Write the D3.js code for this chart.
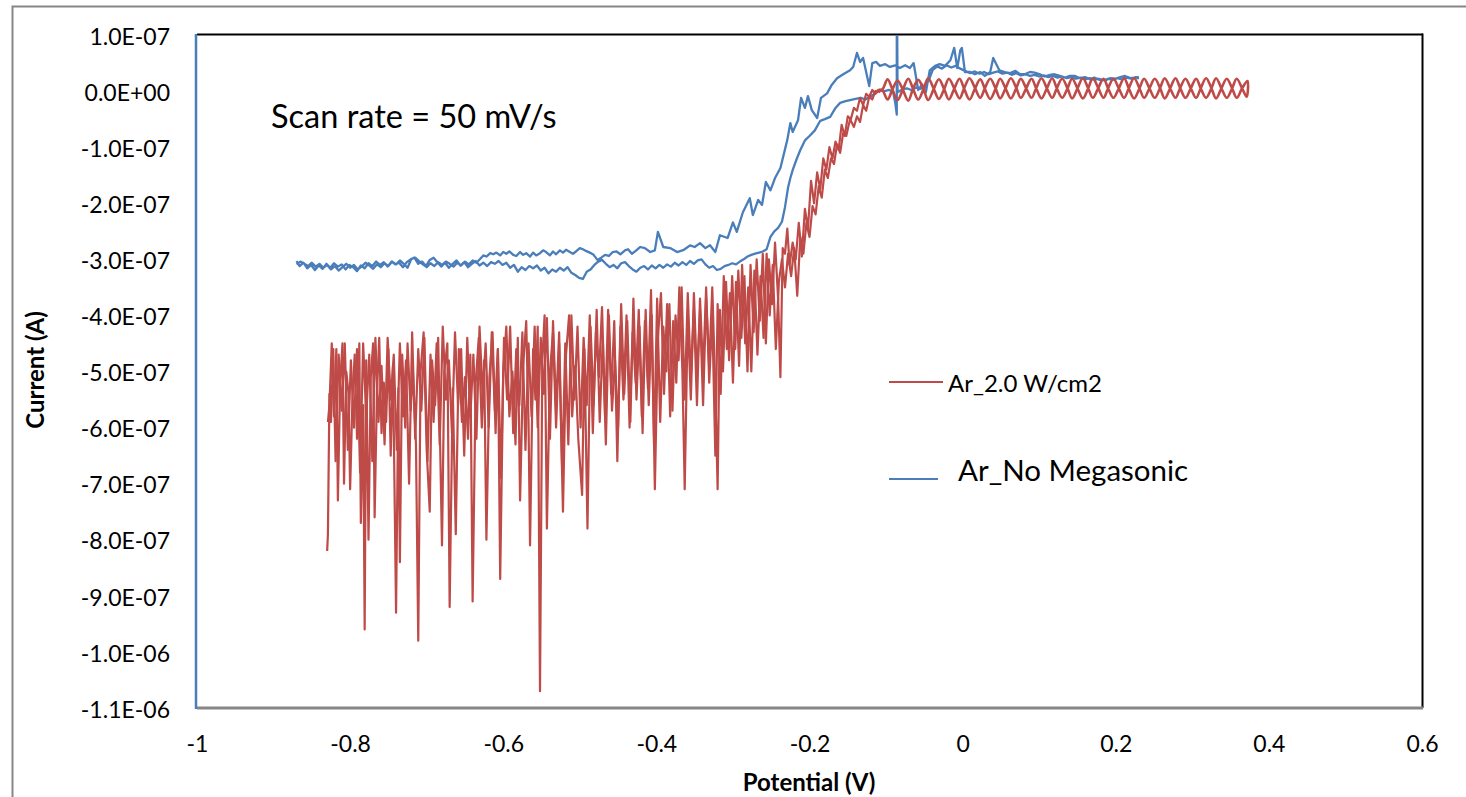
<!DOCTYPE html>
<html>
<head>
<meta charset="utf-8">
<script src="https://cdn.jsdelivr.net/npm/d3@7"></script>
<style>
  body { margin: 0; background: #fff; }
  text { font-family: Lato, "Open Sans", sans-serif; }
</style>
</head>
<body>
<svg id="chart" width="1466" height="797"></svg>
<script>
// axis ticks (current in units of 1e-7 A)
const xTicks = [-1, -0.8, -0.6, -0.4, -0.2, 0, 0.2, 0.4, 0.6]
const yTicks = [1, 0, -1, -2, -3, -4, -5, -6, -7, -8, -9, -10, -11]
const currentUnit = 1e-7
const seriesNames = ["Ar_2.0 W/cm2", "Ar_No Megasonic"]
const note = "Scan rate = 50 mV/s"

// Ar_2.0 W/cm2 : forward sweep, noisy part + rise  [V, 1e-7 A]
const redFwd = [[-0.829,-5.9],[-0.827,-5.6],[-0.824,-4.5],[-0.821,-5.8],[-0.818,-4.6],[-0.816,-7.3],[-0.813,-5.2],[-0.810,-4.5],[-0.808,-7.0],[-0.805,-5.0],[-0.802,-5.4],[-0.800,-7.1],[-0.797,-5.5],[-0.794,-4.7],[-0.791,-6.2],[-0.788,-4.5],[-0.786,-7.7],[-0.783,-5.6],[-0.781,-9.6],[-0.779,-4.8],[-0.776,-8.0],[-0.773,-5.1],[-0.770,-4.5],[-0.768,-7.6],[-0.765,-5.4],[-0.762,-4.4],[-0.759,-6.1],[-0.756,-5.2],[-0.753,-5.9],[-0.750,-4.6],[-0.747,-6.5],[-0.744,-4.9],[-0.740,-9.3],[-0.737,-5.3],[-0.735,-8.4],[-0.732,-4.7],[-0.728,-6.0],[-0.725,-4.5],[-0.721,-5.7],[-0.718,-5.0],[-0.714,-6.3],[-0.711,-9.8],[-0.708,-5.0],[-0.704,-4.3],[-0.700,-6.4],[-0.696,-7.5],[-0.693,-4.8],[-0.689,-5.6],[-0.685,-4.4],[-0.680,-8.1],[-0.677,-5.0],[-0.673,-4.5],[-0.670,-9.2],[-0.666,-5.3],[-0.662,-7.9],[-0.658,-4.6],[-0.654,-5.9],[-0.650,-5.1],[-0.646,-6.2],[-0.643,-4.7],[-0.640,-9.1],[-0.636,-5.2],[-0.632,-4.4],[-0.628,-6.0],[-0.625,-4.8],[-0.622,-8.0],[-0.618,-5.1],[-0.614,-4.3],[-0.610,-6.1],[-0.607,-4.6],[-0.604,-8.7],[-0.600,-5.0],[-0.596,-4.2],[-0.592,-5.8],[-0.588,-5.0],[-0.584,-6.3],[-0.581,-4.4],[-0.578,-7.3],[-0.574,-4.9],[-0.570,-4.1],[-0.567,-5.9],[-0.565,-8.1],[-0.561,-4.6],[-0.558,-5.5],[-0.555,-4.2],[-0.552,-10.7],[-0.549,-4.8],[-0.546,-4.0],[-0.543,-7.8],[-0.539,-5.0],[-0.535,-4.3],[-0.531,-6.0],[-0.527,-4.5],[-0.522,-7.5],[-0.518,-4.7],[-0.514,-4.0],[-0.510,-5.8],[-0.506,-4.9],[-0.502,-6.2],[-0.497,-7.2],[-0.494,-4.6],[-0.490,-7.8],[-0.486,-4.2],[-0.482,-5.6],[-0.478,-3.9],[-0.474,-5.9],[-0.470,-4.4],[-0.466,-6.3],[-0.462,-4.0],[-0.458,-5.7],[-0.454,-4.8],[-0.450,-6.0],[-0.446,-3.8],[-0.442,-5.4],[-0.438,-4.1],[-0.434,-5.9],[-0.430,-3.7],[-0.426,-5.5],[-0.422,-4.2],[-0.418,-6.1],[-0.414,-3.9],[-0.410,-5.6],[-0.406,-4.0],[-0.402,-7.1],[-0.398,-4.4],[-0.394,-3.6],[-0.390,-5.4],[-0.386,-3.8],[-0.382,-5.8],[-0.378,-4.1],[-0.374,-5.2],[-0.370,-3.5],[-0.366,-5.0],[-0.363,-7.1],[-0.359,-4.0],[-0.355,-5.5],[-0.351,-3.6],[-0.347,-5.1],[-0.343,-3.9],[-0.339,-5.6],[-0.335,-3.7],[-0.331,-4.9],[-0.327,-3.5],[-0.323,-5.3],[-0.320,-7.1],[-0.317,-3.9],[-0.313,-5.0],[-0.309,-3.4],[-0.305,-4.8],[-0.301,-3.3],[-0.297,-4.6],[-0.293,-3.2],[-0.289,-4.4],[-0.285,-3.3],[-0.281,-5.0],[-0.277,-3.1],[-0.273,-4.3],[-0.269,-3.0],[-0.265,-4.1],[-0.261,-2.9],[-0.257,-4.5],[-0.253,-3.0],[-0.249,-3.8],[-0.245,-2.7],[-0.241,-3.7],[-0.238,-5.1],[-0.235,-2.8],
  [-0.232,-2.9],[-0.229,-2.45],[-0.226,-3.1],[-0.222,-2.7],[-0.218,-3.0],[-0.214,-2.35],[-0.210,-2.95],[-0.206,-2.1],[-0.202,-2.45],[-0.198,-1.6],[-0.194,-2.0],[-0.190,-1.45],[-0.186,-1.75],[-0.182,-1.2],[-0.178,-1.4],[-0.174,-1.0],[-0.170,-1.2],[-0.166,-0.9],[-0.162,-1.05],[-0.158,-0.6],[-0.154,-0.8],[-0.150,-0.45],[-0.146,-0.5],[-0.142,-0.3],[-0.138,-0.35],[-0.134,-0.12],[-0.130,-0.25],[-0.126,-0.05],[-0.122,-0.1],[-0.118,0.02],[-0.114,-0.05],[-0.110,0.03]]

// Ar_2.0 W/cm2 : oscillating part, forward then reverse
const redLoopFwd = [[-0.105,0.03],[-0.098,0.21],[-0.092,0.04],[-0.085,-0.16],[-0.078,0.03],[-0.071,0.22],[-0.065,0.05],[-0.058,-0.15],[-0.051,0.04],[-0.045,0.23],[-0.038,0.05],[-0.031,-0.14],[-0.024,0.04],[-0.018,0.22],[-0.011,0.05],[-0.004,-0.13],[0.002,0.05],[0.009,0.23],[0.016,0.06],[0.023,-0.12],[0.029,0.05],[0.036,0.22],[0.043,0.05],[0.049,-0.13],[0.056,0.05],[0.063,0.23],[0.070,0.06],[0.076,-0.12],[0.083,0.05],[0.090,0.22],[0.096,0.05],[0.103,-0.13],[0.110,0.05],[0.117,0.23],[0.123,0.05],[0.130,-0.12],[0.137,0.05],[0.143,0.22],[0.150,0.05],[0.157,-0.13],[0.164,0.05],[0.170,0.23],[0.177,0.06],[0.184,-0.12],[0.190,0.05],[0.197,0.22],[0.204,0.05],[0.211,-0.12],[0.217,0.05],[0.224,0.23],[0.231,0.05],[0.237,-0.12],[0.244,0.05],[0.251,0.22],[0.258,0.05],[0.264,-0.13],[0.271,0.05],[0.278,0.23],[0.284,0.06],[0.291,-0.12],[0.298,0.05],[0.305,0.22],[0.311,0.05],[0.318,-0.12],[0.325,0.05],[0.331,0.23],[0.338,0.05],[0.345,-0.12],[0.352,0.05],[0.358,0.22],[0.365,0.05],[0.371,-0.10]]
const redLoopRev = [[0.372,0.18],[0.365,0.05],[0.358,-0.12],[0.352,0.05],[0.345,0.22],[0.338,0.05],[0.331,-0.13],[0.325,0.05],[0.318,0.23],[0.311,0.05],[0.305,-0.12],[0.298,0.05],[0.291,0.22],[0.284,0.05],[0.278,-0.12],[0.271,0.05],[0.264,0.23],[0.258,0.06],[0.251,-0.12],[0.244,0.05],[0.237,0.22],[0.231,0.05],[0.224,-0.13],[0.217,0.05],[0.211,0.23],[0.204,0.05],[0.197,-0.12],[0.190,0.05],[0.184,0.22],[0.177,0.05],[0.170,-0.12],[0.164,0.05],[0.157,0.23],[0.150,0.05],[0.143,-0.13],[0.137,0.05],[0.130,0.22],[0.123,0.05],[0.117,-0.12],[0.110,0.05],[0.103,0.23],[0.096,0.05],[0.090,-0.12],[0.083,0.05],[0.076,0.22],[0.070,0.05],[0.063,-0.13],[0.056,0.05],[0.049,0.22],[0.043,0.04],[0.036,-0.14],[0.029,0.04],[0.023,0.21],[0.016,0.04],[0.009,-0.15],[0.002,0.04],[-0.004,0.22],[-0.011,0.04],[-0.018,-0.15],[-0.024,0.03],[-0.031,0.21],[-0.038,0.03],[-0.045,-0.16],[-0.051,0.03],[-0.058,0.20],[-0.065,0.03],[-0.071,-0.17],[-0.078,0.02],[-0.085,0.19],[-0.092,0.02],[-0.098,-0.15],[-0.105,0.01]]

// Ar_2.0 W/cm2 : reverse sweep, fall + noisy part
const redRev = [[-0.110,-0.02],[-0.114,0.0],[-0.118,-0.15],[-0.122,-0.1],[-0.126,-0.35],[-0.130,-0.25],[-0.134,-0.55],[-0.138,-0.45],[-0.142,-0.64],[-0.147,-0.5],[-0.152,-0.8],[-0.156,-0.75],[-0.160,-1.1],[-0.164,-0.95],[-0.168,-1.3],[-0.172,-1.2],[-0.176,-1.55],[-0.180,-1.4],[-0.184,-1.9],[-0.188,-1.7],[-0.192,-2.2],[-0.196,-2.05],[-0.200,-2.6],[-0.204,-2.35],[-0.208,-2.9],[-0.212,-2.6],[-0.216,-3.65],[-0.220,-2.8],[-0.224,-3.3],[-0.228,-2.9],[-0.232,-3.5],[-0.236,-3.0],
  [-0.240,-3.4],[-0.244,-4.6],[-0.248,-3.1],[-0.252,-4.0],[-0.256,-2.9],[-0.260,-4.4],[-0.264,-3.3],[-0.268,-4.7],[-0.272,-3.2],[-0.276,-5.0],[-0.280,-3.5],[-0.284,-4.5],[-0.288,-3.1],[-0.292,-4.9],[-0.296,-3.4],[-0.300,-5.2],[-0.304,-3.6],[-0.308,-4.6],[-0.312,-3.3],[-0.316,-5.4],[-0.320,-3.8],[-0.323,-6.5],[-0.327,-4.0],[-0.331,-5.2],[-0.335,-3.5],[-0.339,-5.0],[-0.343,-3.7],[-0.347,-5.6],[-0.351,-3.9],[-0.355,-5.1],[-0.359,-3.6],[-0.363,-5.5],[-0.367,-3.5],[-0.371,-4.8],[-0.375,-4.0],[-0.379,-5.7],[-0.383,-3.8],[-0.387,-5.0],[-0.391,-4.2],[-0.395,-5.9],[-0.399,-3.7],[-0.403,-6.3],[-0.407,-3.55],[-0.411,-5.3],[-0.415,-4.1],[-0.419,-5.8],[-0.423,-3.9],[-0.427,-5.2],[-0.431,-4.3],[-0.435,-6.0],[-0.439,-4.0],[-0.443,-5.5],[-0.447,-4.2],[-0.451,-6.6],[-0.455,-4.1],[-0.459,-5.4],[-0.463,-3.9],[-0.467,-5.8],[-0.471,-3.85],[-0.475,-5.1],[-0.479,-4.3],[-0.483,-6.1],[-0.487,-4.0],[-0.491,-5.6],[-0.495,-4.4],[-0.499,-6.0],[-0.503,-4.2],[-0.507,-5.5],[-0.511,-4.0],[-0.515,-6.3],[-0.519,-4.5],[-0.523,-6.8],[-0.527,-4.3],[-0.531,-5.7],[-0.535,-4.1],[-0.539,-6.2],[-0.543,-4.05],[-0.547,-5.4],[-0.551,-4.4],[-0.555,-6.0],[-0.559,-4.2],[-0.563,-5.8],[-0.567,-4.5],[-0.571,-6.4],[-0.575,-4.3],[-0.579,-5.6],[-0.583,-4.6],[-0.587,-6.1],[-0.591,-4.2],[-0.595,-5.5],[-0.599,-4.4],[-0.603,-6.9],[-0.607,-4.6],[-0.611,-5.7],[-0.615,-4.3],[-0.619,-6.0],[-0.623,-4.5],[-0.627,-5.4],[-0.631,-4.2],[-0.635,-6.2],[-0.639,-4.7],[-0.643,-5.8],[-0.647,-4.4],[-0.651,-6.5],[-0.655,-4.6],[-0.659,-5.6],[-0.663,-4.3],[-0.667,-6.1],[-0.671,-4.8],[-0.675,-5.5],[-0.679,-4.2],[-0.683,-6.3],[-0.687,-4.5],[-0.691,-5.9],[-0.695,-4.7],[-0.699,-6.6],[-0.703,-4.4],[-0.707,-5.7],[-0.711,-4.6],[-0.715,-6.2],[-0.719,-4.3],[-0.723,-7.0],[-0.727,-4.8],[-0.731,-5.8],[-0.735,-4.5],[-0.739,-6.4],[-0.743,-4.7],[-0.747,-5.5],[-0.751,-4.4],[-0.755,-6.3],[-0.759,-4.9],[-0.763,-5.9],[-0.767,-4.4],[-0.771,-6.6],[-0.775,-4.7],[-0.779,-5.8],[-0.783,-4.5],[-0.787,-6.8],[-0.791,-4.6],[-0.795,-6.0],[-0.799,-4.8],[-0.803,-6.4],[-0.807,-4.5],[-0.811,-5.7],[-0.815,-4.7],[-0.819,-6.6],[-0.822,-4.6],[-0.825,-5.9],[-0.827,-5.4],[-0.829,-7.9],[-0.830,-8.2]]

// Ar_No Megasonic : forward sweep (the later-rising trace)
const blueFwd = [[-0.870,-3.03],[-0.866,-3.12],[-0.861,-3.06],[-0.856,-3.16],[-0.851,-3.10],[-0.846,-3.19],[-0.841,-3.11],[-0.836,-3.17],[-0.831,-3.08],[-0.826,-3.15],[-0.821,-3.07],[-0.816,-3.13],[-0.811,-3.09],[-0.806,-3.18],[-0.801,-3.10],[-0.796,-3.14],[-0.791,-3.21],[-0.786,-3.11],[-0.781,-3.16],[-0.776,-3.07],[-0.771,-3.12],[-0.766,-3.04],[-0.761,-3.10],[-0.756,-3.05],[-0.751,-3.13],[-0.746,-3.04],[-0.741,-3.09],[-0.736,-3.06],[-0.731,-3.14],[-0.726,-3.05],[-0.721,-3.00],[-0.716,-2.97],[-0.711,-3.08],[-0.706,-3.04],[-0.701,-3.12],[-0.696,-3.01],[-0.691,-2.97],[-0.686,-3.05],[-0.681,-3.13],[-0.676,-3.06],[-0.671,-3.15],[-0.666,-3.08],[-0.661,-3.02],[-0.656,-3.11],[-0.651,-3.05],[-0.646,-3.14],[-0.641,-3.08],[-0.636,-3.03],[-0.631,-3.11],[-0.626,-3.06],[-0.621,-3.12],[-0.616,-3.05],[-0.611,-3.08],[-0.606,-3.03],[-0.601,-3.10],[-0.596,-3.06],[-0.591,-3.15],[-0.586,-3.10],[-0.581,-3.22],[-0.576,-3.14],[-0.571,-3.19],[-0.566,-3.12],[-0.561,-3.16],[-0.556,-3.11],[-0.551,-3.20],[-0.546,-3.15],[-0.541,-3.25],[-0.536,-3.18],[-0.531,-3.22],[-0.526,-3.15],[-0.521,-3.20],[-0.516,-3.14],[-0.511,-3.24],[-0.506,-3.28],[-0.501,-3.33],[-0.496,-3.35],[-0.491,-3.22],[-0.486,-3.18],[-0.481,-3.10],[-0.476,-3.04],[-0.471,-3.01],[-0.466,-3.08],[-0.461,-3.14],[-0.456,-3.10],[-0.451,-3.16],[-0.446,-3.07],[-0.441,-3.05],[-0.436,-3.12],[-0.431,-3.18],[-0.426,-3.22],[-0.421,-3.15],[-0.416,-3.12],[-0.411,-3.18],[-0.406,-3.11],[-0.401,-3.16],[-0.396,-3.10],[-0.391,-3.15],[-0.386,-3.09],[-0.381,-3.13],[-0.376,-3.06],[-0.371,-3.11],[-0.366,-3.05],[-0.361,-3.10],[-0.356,-3.03],[-0.351,-3.08],[-0.346,-3.02],[-0.341,-3.00],[-0.336,-3.09],[-0.331,-3.15],[-0.326,-3.12],[-0.321,-3.19],[-0.316,-3.17],[-0.311,-3.12],[-0.306,-3.10],[-0.301,-3.07],[-0.296,-3.09],[-0.291,-3.04],[-0.286,-3.00],[-0.281,-2.95],[-0.276,-2.92],[-0.271,-2.90],[-0.266,-2.88],[-0.261,-2.86],[-0.256,-2.82],[-0.251,-2.60],[-0.246,-2.50],[-0.241,-2.44],[-0.236,-2.33],[-0.232,-2.07],[-0.228,-1.72],[-0.225,-1.55],[-0.222,-1.41],[-0.217,-1.22],[-0.212,-1.05],[-0.206,-0.88],[-0.200,-0.80],[-0.193,-0.70],[-0.186,-0.53],[-0.180,-0.50],[-0.173,-0.46],[-0.166,-0.30],[-0.160,-0.21],[-0.153,-0.18],[-0.147,-0.16],[-0.140,-0.14],[-0.133,-0.12],[-0.127,-0.15],[-0.121,-0.10],[-0.114,-0.04],[-0.108,0.02],[-0.102,0.00],[-0.096,0.02],[-0.091,-0.01],[-0.088,-0.21],[-0.086,-0.42],[-0.086,2.5],[-0.085,-0.02],[-0.079,0.03],[-0.073,0.05],[-0.067,0.02],[-0.061,0.06],[-0.055,0.04],[-0.049,0.08],[-0.044,0.20],[-0.039,0.38],[-0.033,0.44],[-0.027,0.40],[-0.021,0.46],[-0.015,0.42],[-0.009,0.45],[-0.003,0.40],[0.003,0.36],[0.010,0.32],[0.016,0.35],[0.022,0.31],[0.028,0.34],[0.034,0.30],[0.040,0.33],[0.046,0.35],[0.052,0.31],[0.058,0.33],[0.064,0.29],[0.070,0.32],[0.076,0.28],[0.082,0.30],[0.088,0.27],[0.094,0.29],[0.100,0.26],[0.106,0.28],[0.112,0.25],[0.118,0.27],[0.124,0.24],[0.130,0.26],[0.136,0.23],[0.142,0.25],[0.148,0.22],[0.154,0.24],[0.160,0.21],[0.166,0.23],[0.172,0.20],[0.178,0.22],[0.184,0.19],[0.190,0.22],[0.196,0.20],[0.202,0.23],[0.208,0.21],[0.214,0.24],[0.220,0.22],[0.226,0.25],[0.229,0.23]]

// Ar_No Megasonic : reverse sweep (the earlier-rising trace)
const blueRev = [[0.229,0.25],[0.219,0.23],[0.212,0.27],[0.206,0.25],[0.199,0.22],[0.193,0.23],[0.186,0.19],[0.179,0.20],[0.172,0.24],[0.166,0.21],[0.160,0.25],[0.153,0.23],[0.147,0.27],[0.140,0.27],[0.134,0.24],[0.127,0.27],[0.120,0.30],[0.114,0.29],[0.107,0.26],[0.101,0.30],[0.094,0.33],[0.088,0.34],[0.081,0.30],[0.075,0.30],[0.069,0.36],[0.062,0.32],[0.055,0.34],[0.048,0.37],[0.044,0.48],[0.040,0.59],[0.036,0.34],[0.029,0.27],[0.023,0.34],[0.016,0.30],[0.010,0.34],[0.003,0.34],[-0.001,0.77],[-0.003,0.73],[-0.007,0.41],[-0.011,0.77],[-0.016,0.55],[-0.023,0.45],[-0.030,0.48],[-0.036,0.45],[-0.043,0.37],[-0.048,-0.02],[-0.053,0.12],[-0.058,0.02],[-0.064,0.50],[-0.069,0.41],[-0.075,0.46],[-0.082,0.41],[-0.088,0.46],[-0.095,0.43],[-0.101,0.48],[-0.108,0.45],[-0.113,0.52],[-0.118,0.50],[-0.122,0.09],[-0.126,0.34],[-0.130,0.59],[-0.134,0.52],[-0.138,0.68],[-0.143,0.43],[-0.147,0.37],[-0.156,0.30],[-0.164,0.23],[-0.171,0.11],[-0.177,-0.04],[-0.185,-0.12],[-0.190,-0.48],[-0.197,-0.34],[-0.202,-0.09],[-0.206,-0.30],[-0.211,-0.12],[-0.215,-0.52],[-0.222,-0.73],[-0.225,-0.57],[-0.229,-0.87],[-0.238,-1.37],[-0.245,-1.55],[-0.251,-1.77],[-0.257,-1.62],[-0.262,-2.03],[-0.267,-1.94],[-0.274,-2.21],[-0.278,-1.91],[-0.287,-2.16],[-0.295,-2.51],[-0.300,-2.34],[-0.307,-2.62],[-0.317,-2.57],[-0.323,-2.87],[-0.330,-2.75],[-0.336,-2.80],[-0.343,-2.71],[-0.350,-2.78],[-0.356,-2.75],[-0.364,-2.83],[-0.373,-2.87],[-0.382,-2.80],[-0.391,-2.78],[-0.398,-2.51],[-0.402,-2.84],[-0.408,-2.87],[-0.415,-2.80],[-0.421,-2.78],[-0.427,-2.85],[-0.432,-2.90],[-0.437,-2.82],[-0.441,-2.84],[-0.447,-2.91],[-0.452,-2.86],[-0.457,-2.87],[-0.462,-2.94],[-0.467,-2.92],[-0.472,-2.97],[-0.477,-3.01],[-0.482,-2.92],[-0.487,-2.88],[-0.492,-2.85],[-0.496,-2.82],[-0.500,-2.80],[-0.505,-2.86],[-0.509,-2.90],[-0.513,-2.87],[-0.518,-2.83],[-0.522,-2.88],[-0.526,-2.84],[-0.531,-2.91],[-0.535,-2.86],[-0.539,-2.93],[-0.544,-2.87],[-0.548,-2.84],[-0.552,-2.89],[-0.557,-2.93],[-0.561,-2.88],[-0.565,-2.95],[-0.570,-2.89],[-0.574,-2.92],[-0.578,-2.87],[-0.583,-2.94],[-0.587,-2.92],[-0.592,-2.86],[-0.596,-2.90],[-0.600,-2.87],[-0.604,-2.93],[-0.609,-2.88],[-0.613,-2.91],[-0.617,-2.89],[-0.622,-2.95],[-0.626,-2.93],[-0.630,-2.99],[-0.635,-3.06],[-0.640,-3.02],[-0.645,-3.09],[-0.650,-3.04],[-0.655,-3.11],[-0.660,-3.06],[-0.665,-3.13],[-0.670,-3.08],[-0.675,-3.04],[-0.680,-3.10],[-0.685,-3.05],[-0.690,-3.12],[-0.695,-3.07],[-0.700,-3.14],[-0.705,-3.09],[-0.710,-3.03],[-0.715,-2.97],[-0.720,-2.99],[-0.725,-3.15],[-0.730,-3.08],[-0.735,-3.02],[-0.740,-3.09],[-0.745,-3.04],[-0.750,-3.12],[-0.755,-3.07],[-0.760,-3.14],[-0.765,-3.09],[-0.770,-3.17],[-0.775,-3.11],[-0.780,-3.06],[-0.785,-3.13],[-0.790,-3.18],[-0.795,-3.10],[-0.800,-3.15],[-0.805,-3.08],[-0.810,-3.14],[-0.815,-3.20],[-0.820,-3.12],[-0.825,-3.18],[-0.830,-3.10],[-0.835,-3.15],[-0.840,-3.08],[-0.845,-3.13],[-0.850,-3.06],[-0.855,-3.12],[-0.860,-3.08],[-0.865,-3.04],[-0.870,-3.09]]

const colors = { red: "#be4b48", blue: "#4a7ebb", frame: "#868686" }

const svg = d3.select("#chart")
const plot = { left: 197, right: 1422, top: 35, bottom: 708 }

const x = d3.scaleLinear().domain([-1, 0.6]).range([plot.left, plot.right])
const y = d3.scaleLinear().domain([-11, 1]).range([plot.bottom, plot.top])

// 外框
svg.append("rect")
  .attr("x", 12.5).attr("y", 6.5)
  .attr("width", 1500).attr("height", 900)
  .attr("fill", "#fff")
  .attr("stroke", colors.frame).attr("stroke-width", 2)

svg.append("clipPath").attr("id", "plotClip")
  .append("rect")
  .attr("x", plot.left).attr("y", plot.top)
  .attr("width", plot.right - plot.left).attr("height", plot.bottom - plot.top)

// y tick labels like 1.0E-07
const fmtY = (v) => {
  const s = (v * currentUnit).toExponential(1)
  return s.replace(/e([+-])(\d+)$/, (m, sign, d) => "E" + sign + d.padStart(2, "0")).toUpperCase()
}

const gy = svg.append("g")
  .attr("transform", `translate(${plot.left},0)`)
  .call(d3.axisLeft(y).tickValues(yTicks).tickSize(0).tickPadding(27).tickFormat(fmtY))
gy.select(".domain").remove()
gy.attr("font-family", "Lato, sans-serif").attr("font-size", 23)
gy.selectAll("text").attr("fill", "#000").attr("dy", "0.4em")

const gx = svg.append("g")
  .attr("transform", `translate(0,${plot.bottom})`)
  .call(d3.axisBottom(x).tickValues(xTicks).tickSize(0).tickPadding(28).tickFormat((d) => String(d)))
gx.select(".domain").remove()
gx.attr("font-family", "Lato, sans-serif").attr("font-size", 23)
gx.selectAll("text").attr("fill", "#000")

// plot border
svg.append("line")
  .attr("x1", plot.left).attr("x2", plot.right + 1)
  .attr("y1", plot.top - 0.5).attr("y2", plot.top - 0.5)
  .attr("stroke", "#000").attr("stroke-width", 2)
svg.append("line")
  .attr("x1", plot.right + 0.5).attr("x2", plot.right + 0.5)
  .attr("y1", plot.top - 1.5).attr("y2", plot.bottom)
  .attr("stroke", "#000").attr("stroke-width", 2)

// series
const gSeries = svg.append("g").attr("clip-path", "url(#plotClip)")
const lineLin = d3.line().x((d) => x(d[0])).y((d) => y(d[1]))
const lineSmooth = d3.line().x((d) => x(d[0])).y((d) => y(d[1])).curve(d3.curveCatmullRom.alpha(0.5))

const blueScan = blueFwd.concat(blueRev)
gSeries.append("path")
  .attr("d", lineLin(blueScan))
  .attr("fill", "none").attr("stroke", colors.blue)
  .attr("stroke-width", 2.3).attr("stroke-linejoin", "round")

const redStyle = (p) => p.attr("fill", "none").attr("stroke", colors.red)
  .attr("stroke-width", 2.2).attr("stroke-linejoin", "round")
gSeries.append("path").attr("d", lineLin(redFwd)).call(redStyle)
gSeries.append("path")
  .attr("d", lineSmooth([redFwd[redFwd.length - 1]].concat(redLoopFwd, redLoopRev, [redRev[0]])))
  .call(redStyle).attr("stroke-width", 2.6)
gSeries.append("path").attr("d", lineLin(redRev)).call(redStyle)

// axis lines
svg.append("line")
  .attr("x1", plot.left).attr("x2", plot.right + 1)
  .attr("y1", plot.bottom).attr("y2", plot.bottom)
  .attr("stroke", colors.frame).attr("stroke-width", 3)
svg.append("line")
  .attr("x1", plot.left - 1).attr("x2", plot.left - 1)
  .attr("y1", plot.top - 1).attr("y2", plot.bottom + 1)
  .attr("stroke", colors.blue).attr("stroke-width", 2.5)

// axis titles
svg.append("text")
  .attr("transform", "translate(44,370) rotate(-90)")
  .attr("text-anchor", "middle")
  .attr("font-size", 24).attr("font-weight", "bold")
  .text("Current (A)")
svg.append("text")
  .attr("x", 809).attr("y", 791)
  .attr("text-anchor", "middle")
  .attr("font-size", 24).attr("font-weight", "bold")
  .text("Potential (V)")

// annotation
svg.append("text")
  .attr("x", 271).attr("y", 128)
  .attr("font-size", 32.5)
  .text(note)

// legend
const legend = [
  { name: seriesNames[0], color: colors.red, x1: 889, x2: 943, y: 382, tx: 948, ty: 392, size: 24 },
  { name: seriesNames[1], color: colors.blue, x1: 889, x2: 938, y: 479, tx: 958, ty: 481, size: 29.5 },
]
const gl = svg.append("g")
gl.selectAll("line").data(legend).enter().append("line")
  .attr("x1", (d) => d.x1).attr("x2", (d) => d.x2)
  .attr("y1", (d) => d.y).attr("y2", (d) => d.y)
  .attr("stroke", (d) => d.color).attr("stroke-width", 2)
gl.selectAll("text").data(legend).enter().append("text")
  .attr("x", (d) => d.tx).attr("y", (d) => d.ty)
  .attr("font-size", (d) => d.size)
  .text((d) => d.name)
</script>
</body>
</html>
